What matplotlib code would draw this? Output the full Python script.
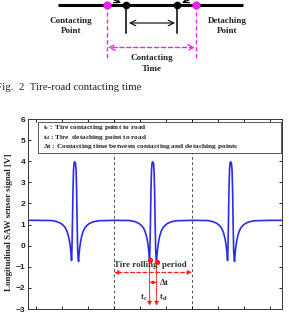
import numpy as np
import matplotlib
matplotlib.use('Agg')
import matplotlib.pyplot as plt
from matplotlib.patches import Rectangle

# --- data ---
pulse_centers = [21.85, 22.15, 22.45]          # s, one pulse per wheel turn
pulse_offset = [-0.150, -0.090, -0.070, -0.055, -0.045, -0.037, -0.031, -0.026,
                -0.022, -0.019, -0.0165, -0.0145, -0.0135, -0.0120, -0.0100,
                -0.0080, -0.0060, -0.0040, -0.0020, 0.0000, 0.0020, 0.0040,
                0.0060, 0.0080, 0.0100, 0.0120, 0.0135, 0.0145, 0.0165, 0.019,
                0.022, 0.026, 0.031, 0.037, 0.045, 0.055, 0.070, 0.090, 0.150]
pulse_volt = [1.20, 1.19, 1.14, 1.06, 0.96, 0.84, 0.68, 0.48,
              0.25, 0.02, -0.25, -0.52, -0.70, -0.20, 1.10,
              2.60, 3.55, 3.90, 3.97, 3.95, 3.88, 3.55,
              2.60, 1.10, -0.20, -0.60, -0.75, -0.55, -0.27, 0.00,
              0.24, 0.47, 0.67, 0.83, 0.95, 1.05, 1.13, 1.18, 1.20]
t_start, t_end, base_volt = 21.66, 22.65, 1.20

period_start, period_end = 22.0, 22.3          # dashed grey lines
t_c, t_d = 22.1365, 22.1635                    # contact / detach of middle pulse
v_c, v_d = -0.70, -0.75

x_ticks = [21.7, 21.8, 21.9, 22.0, 22.1, 22.2, 22.3, 22.4, 22.5, 22.6]
x_tick_labels = ['21.7', '21.8', '21.9', '22', '22.1', '22.2', '22.3', '22.4', '22.5', '22.6']
y_ticks = [-3, -2, -1, 0, 1, 2, 3, 4, 5, 6]

legend_lines = [r'$\mathbf{t_c}$ : Tire contacting point to road',
                r'$\mathbf{t_d}$ : Tire  detaching point to road',
                r'$\mathbf{\Delta t}$ : Contacting time between contacting and detaching points']

# build the trace
t = [t_start]
v = [base_volt]
for c in pulse_centers:
    t += [c + o for o in pulse_offset]
    v += pulse_volt
t.append(t_end)
v.append(base_volt)

# --- figure ---
W, H = 289, 312
fig = plt.figure(figsize=(W / 100, H / 100), dpi=100)

def px_box(l, top, r, b):
    return [l / W, 1 - b / H, (r - l) / W, (b - top) / H]

serif = ['Liberation Serif', 'DejaVu Serif']
sans = ['Liberation Sans', 'DejaVu Sans']
plt.rcParams['mathtext.fontset'] = 'custom'
plt.rcParams['mathtext.rm'] = 'Liberation Serif'
plt.rcParams['mathtext.it'] = 'Liberation Serif:italic'
plt.rcParams['mathtext.bf'] = 'Liberation Serif:bold'

# ----- top schematic -----
axd = fig.add_axes([0, 1 - 100 / H, 1, 100 / H])
axd.set_xlim(0, W)
axd.set_ylim(100, 0)
axd.axis('off')
mag = '#f020f0'
axd.plot([58, 243], [5, 5], color='k', lw=2.2, solid_capstyle='butt', zorder=2)
axd.annotate('', xy=(121, 3), xytext=(110, -2), annotation_clip=False,
             arrowprops=dict(arrowstyle='->', lw=0.9, color='k', shrinkA=0, shrinkB=0))
axd.annotate('', xy=(182, 3), xytext=(193, -2), annotation_clip=False,
             arrowprops=dict(arrowstyle='->', lw=0.9, color='k', shrinkA=0, shrinkB=0))
for xx in [126, 177]:
    axd.plot([xx, xx], [5, 33], color='k', lw=1.1, zorder=2)
    axd.plot(xx, 5, 'o', color='k', ms=4.5, zorder=3)
axd.annotate('', xy=(129, 23), xytext=(175, 23),
             arrowprops=dict(arrowstyle='<->', lw=0.8, color='k', shrinkA=0, shrinkB=0))
for xx in [107, 196]:
    axd.plot([xx, xx], [5, 60], color=mag, lw=1.0, ls=(0, (3, 2)), zorder=2)
    axd.plot(xx, 5, 'o', color=mag, ms=5, zorder=3)
axd.annotate('', xy=(108, 47.5), xytext=(195, 47.5),
             arrowprops=dict(arrowstyle='<->', lw=1.0, color=mag, ls=(0, (3, 2)),
                             shrinkA=0, shrinkB=0))
axd.text(71, 26, 'Contacting\nPoint', ha='center', va='center', fontsize=6.5,
         fontweight='bold', family=serif, linespacing=1.35, color='#222222')
axd.text(227, 26, 'Detaching\nPoint', ha='center', va='center', fontsize=6.5,
         fontweight='bold', family=serif, linespacing=1.35, color='#222222')
axd.text(152, 63.5, 'Contacting\nTime', ha='center', va='center', fontsize=6.5,
         fontweight='bold', family=serif, linespacing=1.35, color='#222222')
axd.text(-4, 87, 'Fig.  2  Tire-road contacting time', ha='left', va='center',
         fontsize=7.8, family=serif, color='#222222')

# ----- signal plot -----
ax = fig.add_axes(px_box(28, 119, 282, 309))
ax.plot(t, v, color='#2b2be8', lw=1.2, zorder=3)
ax.set_xlim(21.669, 22.646)
ax.set_ylim(-3, 6)
ax.set_xticks(x_ticks)
ax.set_xticklabels(x_tick_labels)
ax.set_yticks(y_ticks)
ax.tick_params(direction='in', length=2.5, width=0.6, pad=2, labelsize=6,
               right=True, top=True)
for lab in ax.get_xticklabels() + ax.get_yticklabels():
    lab.set_family(sans)
    lab.set_fontweight('bold')
    lab.set_color('#222222')
for s in ax.spines.values():
    s.set_linewidth(0.7)
    s.set_color('#333333')

for xx in [period_start, period_end]:
    ax.axvline(xx, color='#555555', lw=0.7, ls=(0, (3, 2.5)), zorder=1)

# legend box
ax.add_patch(Rectangle((0.039, 0.822), 0.957, 0.162, transform=ax.transAxes,
                       facecolor='white', edgecolor='#555555', lw=0.7, zorder=4))
for i, txt in enumerate(legend_lines):
    ax.text(0.059, 0.956 - 0.051 * i, txt, transform=ax.transAxes, ha='left', va='center',
            fontsize=5.3, fontweight='bold', family=serif, color='#222222', zorder=5)

# red annotations
red = '#ff1a1a'
ax.plot([t_c, t_d], [v_c, v_d], 'o', color=red, ms=2.8, zorder=4)
for xx, yy in [(t_c, v_c), (t_d, v_d)]:
    ax.annotate('', xy=(xx, -2.85), xytext=(xx, yy),
                arrowprops=dict(arrowstyle='-|>', lw=0.8, color=red, ls=(0, (1, 1)),
                                mutation_scale=6, shrinkA=0, shrinkB=0))
ax.annotate('', xy=(period_start, -1.27), xytext=(period_end, -1.27),
            arrowprops=dict(arrowstyle='<|-|>', lw=0.9, color=red, ls=(0, (3, 2)),
                            mutation_scale=6, shrinkA=0, shrinkB=0))
ax.annotate('', xy=(t_c, -1.74), xytext=(t_d, -1.74),
            arrowprops=dict(arrowstyle='<|-|>', lw=0.8, color=red,
                            mutation_scale=4, shrinkA=0, shrinkB=0))
ax.text(22.14, -0.93, 'Tire rolling  period', ha='center', va='center', fontsize=6.4,
        fontweight='bold', family=serif, color='#333333')
ax.text(22.172, -1.70, r'$\mathbf{\Delta t}$', ha='left', va='center', fontsize=6.5,
        color='#333333')
ax.text(22.113, -2.46, r'$\mathbf{t_c}$', ha='center', va='center', fontsize=6.5,
        color='#333333')
ax.text(22.19, -2.46, r'$\mathbf{t_d}$', ha='center', va='center', fontsize=6.5,
        color='#333333')

fig.text(9 / W, 1 - 222 / H, 'Longitudinal SAW sensor signal [V]', rotation=90,
         ha='center', va='center', fontsize=6.5, fontweight='bold', family=serif,
         color='#222222')

fig.savefig('out.png', dpi=100)
